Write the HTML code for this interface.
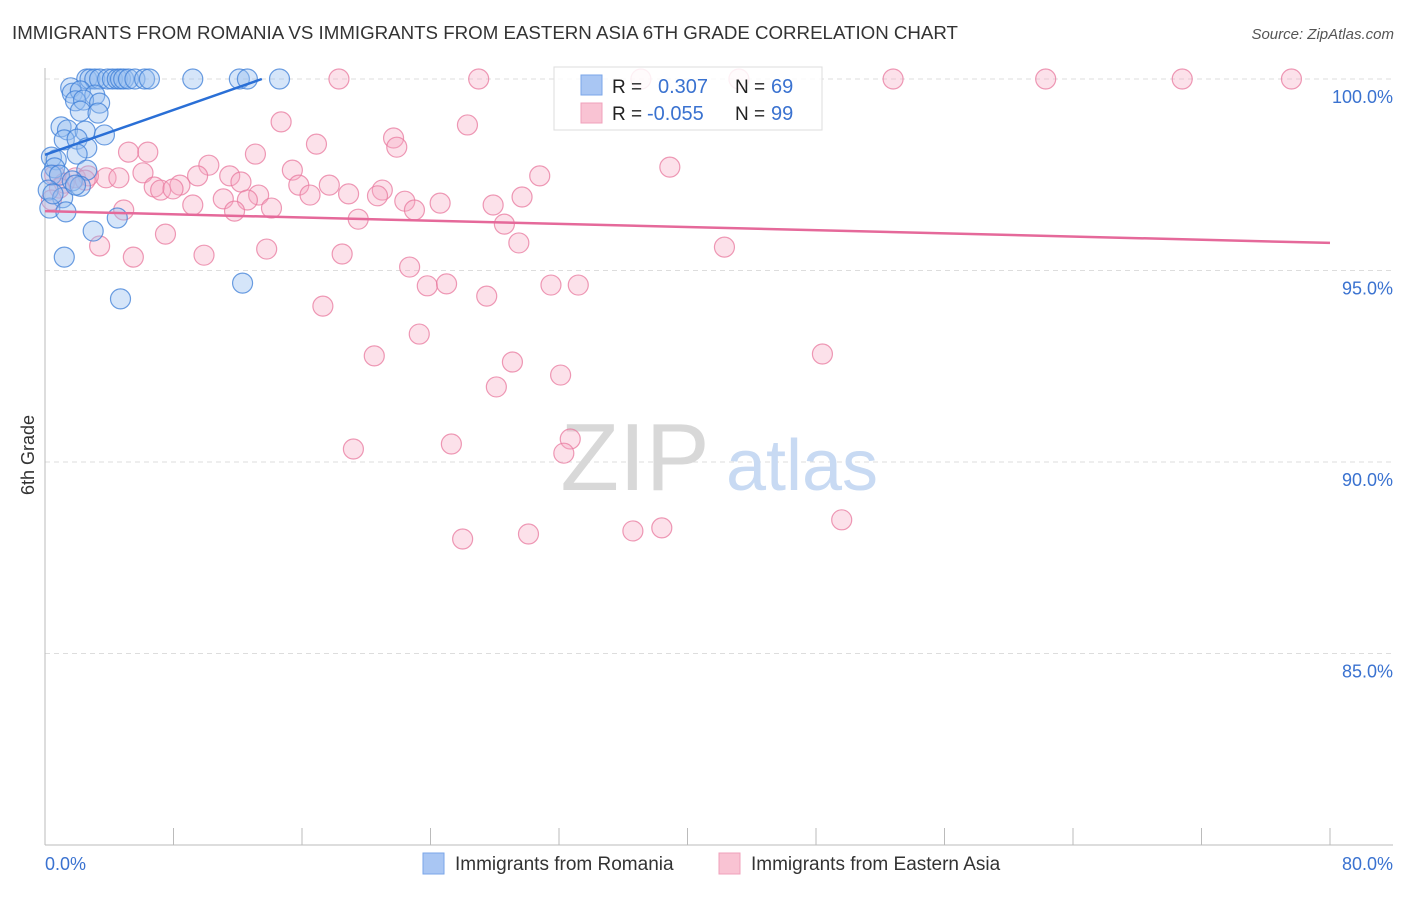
<!DOCTYPE html>
<html><head><meta charset="utf-8"><style>
body{margin:0;background:#fff;font-family:"Liberation Sans",sans-serif;}
svg text{font-family:"Liberation Sans",sans-serif;}
</style></head><body>
<svg id="chart" width="1406" height="892" xmlns="http://www.w3.org/2000/svg">
<text x="12" y="39" font-size="18" fill="#333" textLength="946" lengthAdjust="spacingAndGlyphs">IMMIGRANTS FROM ROMANIA VS IMMIGRANTS FROM EASTERN ASIA 6TH GRADE CORRELATION CHART</text>
<text x="1394" y="39" font-size="15" fill="#555" font-style="italic" text-anchor="end">Source: ZipAtlas.com</text>
<g id="grid"></g>
<g id="wm">
<text x="635" y="490" font-size="96" fill="#d8d8d8" font-family="Liberation Serif,serif" text-anchor="middle">ZIP</text>
<text x="802" y="490" font-size="72" fill="#c8daf3" text-anchor="middle">atlas</text>
</g>
<g id="axes"></g>
<g id="pts"></g>
<g id="lines"></g>
<g>
<rect x="554" y="67" width="268" height="63" fill="rgba(255,255,255,0.85)" stroke="#ddd"/>
<rect x="581" y="75" width="21" height="20" fill="#a9c6f3" stroke="#7aa6e8"/>
<rect x="581" y="103" width="21" height="20" fill="#f9c3d3" stroke="#f0a0bb"/>
<text x="612" y="93" font-size="19" fill="#222">R = </text><text x="658" y="93" font-size="20" fill="#3a72d0">0.307</text>
<text x="735" y="93" font-size="19" fill="#222">N = </text><text x="771" y="93" font-size="20" fill="#3a72d0">69</text>
<text x="612" y="120" font-size="19" fill="#222">R = </text><text x="647" y="120" font-size="20" fill="#3a72d0">-0.055</text>
<text x="735" y="120" font-size="19" fill="#222">N = </text><text x="771" y="120" font-size="20" fill="#3a72d0">99</text>
</g>
<text transform="translate(34,455) rotate(-90)" font-size="18" fill="#333" text-anchor="middle">6th Grade</text>
<text x="45" y="870" font-size="18" fill="#3a72d0">0.0%</text>
<text x="1393" y="870" font-size="18" fill="#3a72d0" text-anchor="end">80.0%</text>
<g>
<rect x="423" y="853" width="21" height="21" fill="#a9c6f3" stroke="#7aa6e8"/>
<text x="455" y="870" font-size="19" fill="#333">Immigrants from Romania</text>
<rect x="719" y="853" width="21" height="21" fill="#f9c3d3" stroke="#f0a0bb"/>
<text x="751" y="870" font-size="19" fill="#333">Immigrants from Eastern Asia</text>
</g>
</svg>
<script>
const yTicks=[100,95,90,85];
const yTickLabels=["100.0%","95.0%","90.0%","85.0%"];
const xTicks=[0,8,16,24,32,40,48,56,64,72,80];
const blueX=[2.6,2.8,3.1,3.4,3.9,4.2,4.5,4.7,4.9,5.2,5.6,6.2,6.5,9.2,12.1,12.6,14.6,1.6,1.7,2.2,3.1,1.9,2.4,3.4,2.2,3.3,1.0,1.4,2.5,1.2,2.0,3.7,2.6,2.0,0.4,0.7,0.6,0.4,0.9,2.6,1.7,2.2,0.2,1.1,0.3,1.3,4.5,3.0,1.2,12.3,4.7,1.9,0.5];
const blueY=[100,100,100,100,100,100,100,100,100,100,100,100,100,100,100,100,100,99.77,99.63,99.69,99.58,99.43,99.45,99.37,99.16,99.11,98.75,98.67,98.64,98.41,98.43,98.54,98.2,98.04,97.96,97.89,97.68,97.49,97.49,97.62,97.34,97.2,97.1,96.9,96.63,96.53,96.37,96.03,95.35,94.67,94.26,97.23,97.0];
const pinkX=[18.3,27.0,37.1,43.2,52.8,62.3,70.8,77.6,14.7,26.3,21.7,16.9,21.9,5.2,6.4,13.1,38.9,10.2,15.4,6.1,11.5,9.5,3.8,4.6,30.8,12.2,6.8,7.2,8.4,7.97,15.8,17.7,21.0,18.9,20.7,13.3,16.5,29.7,9.2,11.1,12.6,14.1,11.8,4.9,22.4,24.6,23.0,27.9,28.6,19.5,7.5,3.4,29.5,13.8,5.5,9.9,18.5,42.3,22.7,23.8,25.0,31.5,33.2,27.5,17.3,23.3,20.5,29.1,48.4,32.1,28.1,32.7,25.3,19.2,32.3,49.6,38.4,36.6,30.1,26.0,0.6,1.2,1.9,2.7,0.9,0.4,2.5];
const pinkY=[100,100,100,100,100,100,100,100,98.88,98.8,98.46,98.3,98.22,98.09,98.09,98.04,97.7,97.75,97.62,97.55,97.47,97.47,97.42,97.42,97.47,97.31,97.18,97.1,97.23,97.13,97.23,97.23,97.1,97.0,96.95,96.97,96.97,96.92,96.71,96.87,96.84,96.63,96.55,96.58,96.81,96.76,96.58,96.71,96.21,96.34,95.95,95.64,95.72,95.56,95.35,95.4,95.43,95.61,95.09,94.6,94.65,94.62,94.62,94.33,94.07,93.34,92.77,92.61,92.82,92.27,91.96,90.6,90.47,90.34,90.23,88.49,88.28,88.2,88.12,87.99,97.49,97.28,97.42,97.47,97.15,96.84,97.36];
const blueTrendX=[0,13.5], blueTrendY=[98.02,100];
const pinkTrendX=[0,80], pinkTrendY=[96.55,95.72];
const sx=v=>45+v*(1285/80), sy=v=>79+(100-v)*38.3;
const NS="http://www.w3.org/2000/svg";
function mk(tag,attrs,parent){const e=document.createElementNS(NS,tag);for(const k in attrs)e.setAttribute(k,attrs[k]);parent.appendChild(e);return e;}
const grid=document.getElementById('grid'),axes=document.getElementById('axes'),pts=document.getElementById('pts'),lines=document.getElementById('lines');
yTicks.forEach((t,i)=>{
 const l=mk('line',{x1:45,x2:1393,y1:sy(t),y2:sy(t),stroke:'#ddd','stroke-dasharray':'5,4'},grid);
 
 
 const tx=mk('text',{x:1393,y:sy(t)+24,'font-size':18,fill:'#3a72d0','text-anchor':'end'},axes);
 tx.textContent=yTickLabels[i];
 
 
});
const ya=mk('line',{x1:45,x2:45,y1:68,y2:845,stroke:'#bbb'},axes);


const xa=mk('line',{x1:45,x2:1393,y1:845,y2:845,stroke:'#bbb'},axes);


xTicks.forEach(t=>{
 const l=mk('line',{x1:sx(t),x2:sx(t),y1:828,y2:845,stroke:'#bbb'},axes);
 
 
});
function drawPts(X,Y,fill,stroke,name){
 X.forEach((x,i)=>{
  const c=mk('circle',{cx:sx(x),cy:sy(Y[i]),r:10,fill:fill,stroke:stroke,'stroke-width':1.2},pts);
  
  
 });
}
drawPts(pinkX,pinkY,'rgba(246,170,195,0.35)','rgba(232,120,158,0.75)','eastern-asia-point');
drawPts(blueX,blueY,'rgba(150,190,240,0.4)','rgba(60,125,215,0.75)','romania-point');
const bl=mk('line',{x1:sx(blueTrendX[0]),y1:sy(blueTrendY[0]),x2:sx(blueTrendX[1]),y2:sy(blueTrendY[1]),stroke:'#2a6fd6','stroke-width':2.5},lines);


const pl=mk('line',{x1:sx(pinkTrendX[0]),y1:sy(pinkTrendY[0]),x2:sx(pinkTrendX[1]),y2:sy(pinkTrendY[1]),stroke:'#e5699a','stroke-width':2.5},lines);


</script>
</body></html>
